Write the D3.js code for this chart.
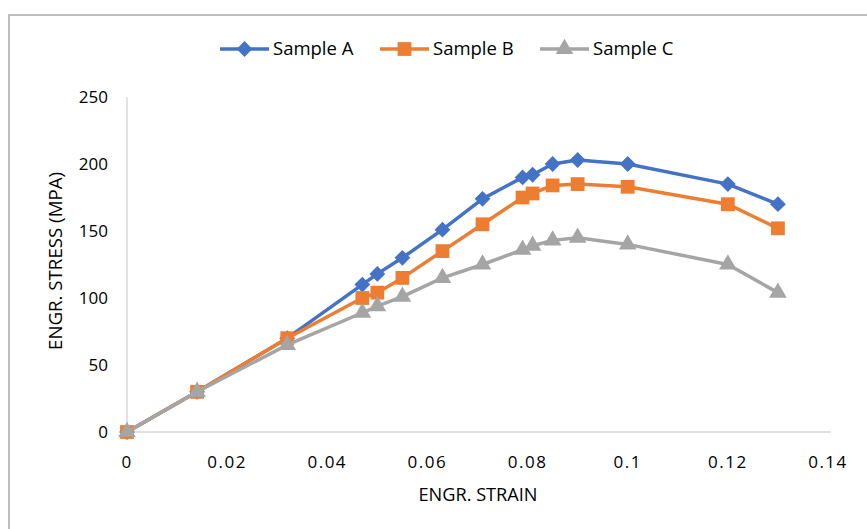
<!DOCTYPE html>
<html>
<head>
<meta charset="utf-8">
<script src="https://cdn.jsdelivr.net/npm/d3@7"></script>
<style>
  body { margin: 0; background: #fff; }
  text { font-family: "Open Sans", sans-serif; fill: #000; }
</style>
</head>
<body>
<div id="chart"></div>
<script>
var w = 867, h = 529;

// data
var strainA = [0, 0.014, 0.032, 0.047, 0.05, 0.055, 0.063, 0.071, 0.079, 0.081, 0.085, 0.09, 0.1, 0.12, 0.13];
var stressA = [0, 30, 70, 110, 118, 130, 151, 174, 190, 192, 200, 203, 200, 185, 170];
var strainB = [0, 0.014, 0.032, 0.047, 0.05, 0.055, 0.063, 0.071, 0.079, 0.081, 0.085, 0.09, 0.1, 0.12, 0.13];
var stressB = [0, 30, 70, 100, 104, 115, 135, 155, 175, 178, 184, 185, 183, 170, 152];
var strainC = [0, 0.014, 0.032, 0.047, 0.05, 0.055, 0.063, 0.071, 0.079, 0.081, 0.085, 0.09, 0.1, 0.12, 0.13];
var stressC = [0, 30, 65, 89, 94, 101, 115, 125, 136, 139, 143, 145, 140, 125, 104];
var xTicks = [0, 0.02, 0.04, 0.06, 0.08, 0.1, 0.12, 0.14];
var yTicks = [0, 50, 100, 150, 200, 250];

// diamond = square turned 45 degrees
var series = [
  { name: "Sample A", color: "#4472C4", shape: d3.symbolSquare, size: 125, rot: 45, xs: strainA, ys: stressA },
  { name: "Sample B", color: "#ED7D31", shape: d3.symbolSquare, size: 190, rot: 0, xs: strainB, ys: stressB },
  { name: "Sample C", color: "#A5A5A5", shape: d3.symbolTriangle, size: 135, rot: 0, xs: strainC, ys: stressC }
];

var svg = d3.select("#chart").append("svg").attr("width", w).attr("height", h);

// outer frame, runs off right and bottom
svg.append("rect").attr("x", 9).attr("y", 15).attr("width", 900).attr("height", 600)
  .attr("fill", "none").attr("stroke", "#bfbfbf").attr("stroke-width", 2);

var x = d3.scaleLinear().domain([0, 0.14]).range([127, 828]);
var y = d3.scaleLinear().domain([0, 250]).range([432, 97]);

// axis lines
svg.append("line").attr("x1", x(0)).attr("x2", x(0)).attr("y1", y(250)).attr("y2", y(0))
  .attr("stroke", "#d9d9d9").attr("stroke-width", 1.5);
svg.append("line").attr("x1", x(0)).attr("x2", 831).attr("y1", y(0)).attr("y2", y(0))
  .attr("stroke", "#d9d9d9").attr("stroke-width", 1.5);

svg.selectAll(".ytick").data(yTicks).enter().append("text")
  .attr("x", 108).attr("y", function(d) { return y(d); }).attr("dy", "0.35em")
  .attr("text-anchor", "end").attr("font-size", 17).text(function(d) { return d; });

svg.selectAll(".xtick").data(xTicks).enter().append("text")
  .attr("x", function(d) { return x(d); }).attr("y", 462).attr("dy", "0.35em")
  .attr("text-anchor", "middle").attr("font-size", 17).attr("letter-spacing", 1.5)
  .text(function(d) { return d; });

svg.append("text").attr("x", 478).attr("y", 495).attr("dy", "0.35em")
  .attr("text-anchor", "middle").attr("font-size", 18)
  .attr("textLength", 119).attr("lengthAdjust", "spacingAndGlyphs").text("ENGR. STRAIN");
svg.append("text").attr("transform", "translate(56,261) rotate(-90)").attr("dy", "0.35em")
  .attr("text-anchor", "middle").attr("font-size", 18)
  .attr("textLength", 178).attr("lengthAdjust", "spacingAndGlyphs").text("ENGR. STRESS (MPA)");

var line = d3.line().x(function(d) { return x(d[0]); }).y(function(d) { return y(d[1]); });

series.forEach(function(s) {
  var pts = d3.zip(s.xs, s.ys);
  svg.append("path").datum(pts).attr("d", line).attr("fill", "none")
    .attr("stroke", s.color).attr("stroke-width", 3.5).attr("stroke-linejoin", "round");
  svg.selectAll(null).data(pts).enter().append("path")
    .attr("d", d3.symbol().type(s.shape).size(s.size))
    .attr("transform", function(d) { return "translate(" + x(d[0]) + "," + y(d[1]) + ") rotate(" + s.rot + ")"; })
    .attr("fill", s.color);
});

// legend
var legX = [220, 380, 540];
series.forEach(function(s, i) {
  var g = svg.append("g").attr("transform", "translate(" + legX[i] + ",49)");
  g.append("line").attr("x1", 0).attr("x2", 49).attr("stroke", s.color).attr("stroke-width", 3.5);
  g.append("path").attr("d", d3.symbol().type(s.shape).size(s.size))
    .attr("transform", "translate(24.5,0) rotate(" + s.rot + ")").attr("fill", s.color);
  g.append("text").attr("x", 53).attr("dy", "0.35em").attr("font-size", 18.5).text(s.name);
});
</script>
</body>
</html>
